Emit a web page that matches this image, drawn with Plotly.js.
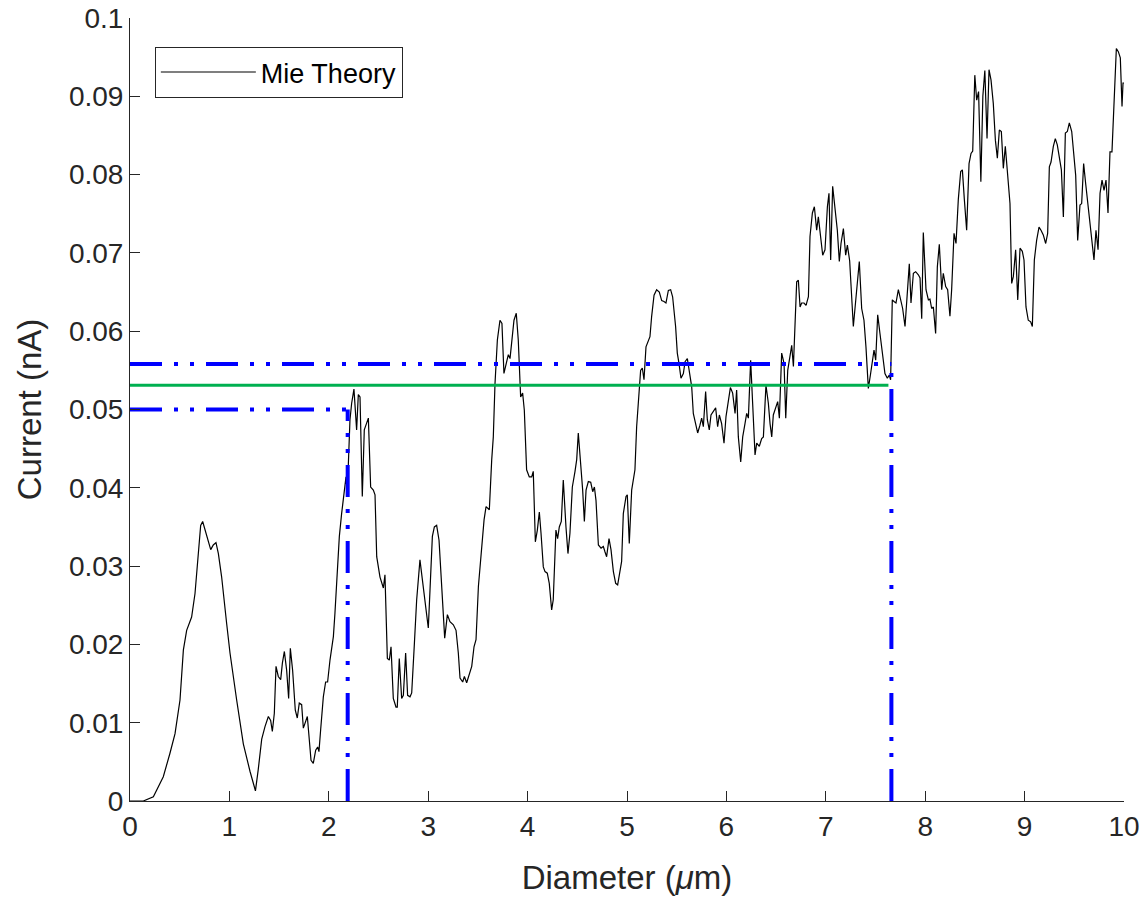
<!DOCTYPE html>
<html>
<head>
<meta charset="utf-8">
<script src="https://cdn.plot.ly/plotly-3.0.1.min.js"></script>
<style>html,body{margin:0;padding:0;background:#fff;}#chart{width:1143px;height:901px;}</style>
</head>
<body>
<div id="chart"></div>
<script>
const diameter = [0,0.134,0.235,0.335,0.402,0.453,0.503,0.537,0.570,0.620,0.654,0.687,0.711,0.731,0.755,0.788,0.812,0.838,0.865,0.889,0.922,0.972,1.006,1.073,1.140,1.207,1.262,1.290,1.325,1.358,1.392,1.415,1.432,1.452,1.469,1.492,1.516,1.533,1.553,1.576,1.596,1.613,1.636,1.663,1.683,1.703,1.727,1.744,1.760,1.784,1.804,1.821,1.844,1.868,1.888,1.901,1.918,1.945,1.968,1.988,2.012,2.046,2.062,2.086,2.106,2.129,2.156,2.173,2.186,2.213,2.230,2.253,2.280,2.297,2.314,2.337,2.357,2.381,2.398,2.421,2.448,2.465,2.482,2.515,2.549,2.565,2.589,2.609,2.626,2.649,2.676,2.689,2.709,2.733,2.750,2.773,2.793,2.817,2.834,2.861,2.884,2.917,2.944,2.975,3.001,3.018,3.042,3.062,3.085,3.109,3.129,3.146,3.166,3.193,3.219,3.253,3.280,3.303,3.320,3.347,3.364,3.387,3.414,3.438,3.461,3.481,3.505,3.538,3.562,3.582,3.615,3.639,3.655,3.672,3.696,3.722,3.742,3.762,3.789,3.806,3.823,3.839,3.863,3.886,3.906,3.930,3.950,3.967,3.990,4.017,4.041,4.057,4.078,4.098,4.118,4.135,4.158,4.175,4.198,4.218,4.242,4.258,4.285,4.302,4.319,4.339,4.359,4.386,4.406,4.426,4.450,4.477,4.494,4.510,4.534,4.554,4.571,4.588,4.611,4.635,4.655,4.672,4.688,4.712,4.739,4.762,4.779,4.795,4.819,4.839,4.863,4.886,4.906,4.930,4.946,4.963,4.990,5.003,5.023,5.047,5.080,5.097,5.114,5.137,5.154,5.171,5.191,5.214,5.231,5.248,5.272,5.298,5.325,5.349,5.372,5.392,5.416,5.439,5.459,5.489,5.506,5.523,5.543,5.567,5.584,5.607,5.627,5.651,5.667,5.687,5.711,5.734,5.751,5.768,5.791,5.808,5.828,5.845,5.868,5.892,5.912,5.929,5.952,5.976,5.996,6.019,6.040,6.063,6.087,6.103,6.120,6.144,6.164,6.187,6.204,6.221,6.244,6.264,6.288,6.305,6.331,6.355,6.372,6.398,6.422,6.439,6.456,6.472,6.499,6.516,6.533,6.556,6.580,6.597,6.617,6.640,6.657,6.674,6.691,6.707,6.724,6.741,6.757,6.781,6.801,6.825,6.841,6.865,6.885,6.908,6.925,6.948,6.969,6.992,7.016,7.032,7.049,7.069,7.093,7.116,7.136,7.153,7.177,7.200,7.217,7.240,7.277,7.310,7.337,7.361,7.384,7.404,7.428,7.451,7.485,7.502,7.522,7.545,7.569,7.595,7.619,7.639,7.652,7.669,7.686,7.706,7.730,7.753,7.773,7.797,7.814,7.840,7.857,7.881,7.904,7.931,7.948,7.965,7.981,8.008,8.032,8.048,8.065,8.082,8.105,8.122,8.142,8.166,8.182,8.206,8.226,8.249,8.266,8.290,8.310,8.333,8.357,8.374,8.394,8.417,8.441,8.461,8.478,8.499,8.518,8.537,8.560,8.580,8.600,8.622,8.642,8.662,8.685,8.706,8.726,8.746,8.766,8.786,8.806,8.826,8.853,8.870,8.887,8.910,8.931,8.954,8.977,8.994,9.014,9.037,9.061,9.078,9.098,9.121,9.145,9.165,9.188,9.212,9.232,9.249,9.266,9.289,9.309,9.329,9.350,9.370,9.390,9.410,9.430,9.450,9.474,9.494,9.514,9.534,9.557,9.574,9.594,9.614,9.635,9.658,9.678,9.698,9.718,9.739,9.759,9.779,9.799,9.819,9.839,9.859,9.879,9.900,9.923,9.943,9.963,9.980,9.990,10.0];
const current = [0,0.0000,0.00055,0.0031,0.0061,0.0086,0.0129,0.0193,0.0218,0.0235,0.0265,0.0321,0.0352,0.0357,0.0346,0.0329,0.0321,0.0327,0.0330,0.0316,0.0286,0.0227,0.0189,0.0129,0.0073,0.0038,0.0013,0.0040,0.0079,0.0095,0.0108,0.0103,0.0089,0.0112,0.0172,0.0159,0.0155,0.0176,0.0191,0.0167,0.0131,0.0195,0.0167,0.0116,0.0106,0.0125,0.0123,0.0093,0.0099,0.0108,0.0078,0.0052,0.0048,0.0065,0.0069,0.0063,0.0091,0.0133,0.0152,0.0152,0.0180,0.0210,0.0240,0.0291,0.0338,0.0367,0.0401,0.0414,0.0393,0.0487,0.0508,0.0526,0.0474,0.0519,0.0516,0.0389,0.0474,0.0482,0.0489,0.0401,0.0397,0.0391,0.0312,0.0286,0.0272,0.0289,0.0182,0.0180,0.0197,0.0131,0.0120,0.0120,0.0182,0.0131,0.0135,0.0189,0.0135,0.0133,0.0138,0.0201,0.0257,0.0308,0.0282,0.0252,0.0221,0.0269,0.0338,0.0350,0.0352,0.0333,0.0286,0.0244,0.0208,0.0238,0.0229,0.0225,0.0218,0.0189,0.0157,0.0152,0.0159,0.0151,0.0163,0.0172,0.0197,0.0206,0.0274,0.0329,0.0359,0.0376,0.0372,0.0436,0.0465,0.0533,0.0589,0.0614,0.0610,0.0546,0.0559,0.0570,0.0565,0.0587,0.0614,0.0623,0.0589,0.0516,0.0521,0.0499,0.0423,0.0414,0.0414,0.0421,0.0331,0.0346,0.0369,0.0342,0.0299,0.0293,0.0291,0.0278,0.0244,0.0257,0.0346,0.0335,0.0350,0.0357,0.0410,0.0350,0.0316,0.0342,0.0401,0.0421,0.0436,0.0470,0.0436,0.0397,0.0357,0.0397,0.0408,0.0407,0.0395,0.0401,0.0384,0.0327,0.0323,0.0325,0.0318,0.0312,0.0335,0.0321,0.0293,0.0278,0.0276,0.0295,0.0306,0.0367,0.0389,0.0391,0.0329,0.0397,0.0423,0.0478,0.0508,0.0550,0.0553,0.0538,0.0580,0.0587,0.0593,0.0619,0.0646,0.0653,0.0650,0.0639,0.0638,0.0636,0.0652,0.0653,0.0644,0.0606,0.0572,0.0559,0.0540,0.0546,0.0561,0.0565,0.0550,0.0529,0.0495,0.0482,0.0470,0.0480,0.0489,0.0478,0.0523,0.0487,0.0474,0.0493,0.0497,0.0502,0.0478,0.0493,0.0482,0.0457,0.0491,0.0512,0.0528,0.0521,0.0495,0.0525,0.0465,0.0433,0.0465,0.0482,0.0495,0.0489,0.0563,0.0508,0.0442,0.0457,0.0453,0.0463,0.0465,0.0531,0.0508,0.0482,0.0465,0.0493,0.0502,0.0510,0.0489,0.0572,0.0559,0.0489,0.0550,0.0570,0.0582,0.0555,0.0614,0.0663,0.0665,0.0631,0.0636,0.0636,0.0633,0.0644,0.0721,0.0751,0.0759,0.0729,0.0746,0.0721,0.0697,0.0704,0.0759,0.0776,0.0691,0.0785,0.0759,0.0729,0.0689,0.0712,0.0731,0.0697,0.0710,0.0690,0.0606,0.0657,0.0689,0.0629,0.0614,0.0580,0.0527,0.0546,0.0576,0.0563,0.0621,0.0597,0.0572,0.0546,0.0540,0.0544,0.0538,0.0640,0.0638,0.0636,0.0653,0.0642,0.0629,0.0606,0.0640,0.0686,0.0636,0.0674,0.0676,0.0672,0.0668,0.0616,0.0726,0.0653,0.0640,0.0641,0.0629,0.0631,0.0597,0.0682,0.0711,0.0653,0.0674,0.0657,0.0653,0.0619,0.0653,0.0725,0.0712,0.0768,0.0804,0.0806,0.0768,0.0729,0.0814,0.0827,0.0830,0.0927,0.0895,0.0906,0.0791,0.0900,0.0933,0.0846,0.0934,0.0921,0.0891,0.0844,0.0821,0.0857,0.0855,0.0808,0.0836,0.0802,0.0763,0.0661,0.0670,0.0704,0.0640,0.0706,0.0702,0.0691,0.0631,0.0614,0.0612,0.0606,0.0691,0.0716,0.0733,0.0729,0.0723,0.0712,0.0725,0.0810,0.0816,0.0836,0.0846,0.0838,0.0821,0.0806,0.0746,0.0853,0.0855,0.0866,0.0855,0.0831,0.0799,0.0716,0.0761,0.0763,0.0814,0.0789,0.0765,0.0733,0.0712,0.0691,0.0729,0.0704,0.0776,0.0793,0.0780,0.0793,0.0751,0.0829,0.0829,0.0895,0.0961,0.0957,0.0949,0.0887,0.0917,0.0917];

// threshold levels and crossing diameters
const currentLevels = [0.0500, 0.0558];   // lower, upper (blue dash-dot)
const meanCurrent = [0.0531];             // green
const crossDiameters = [2.19, 7.66];      // left, right verticals
const meanLineEnd = [7.63];

const xTickVals = [0,1,2,3,4,5,6,7,8,9,10];
const xTickText = ['0','1','2','3','4','5','6','7','8','9','10'];
const yTickVals = [0,0.01,0.02,0.03,0.04,0.05,0.06,0.07,0.08,0.09,0.1];
const yTickText = ['0','0.01','0.02','0.03','0.04','0.05','0.06','0.07','0.08','0.09','0.1'];

const blueDash = '32px,12px,4px,12px,4px,12px';
const blueLine = {color:'#0000FF', width:4, dash: blueDash};

const traces = [
  {x: diameter, y: current, type:'scatter', mode:'lines', name:'Mie Theory',
   line:{color:'#000000', width:1.2}, showlegend:true},
  {x:[0, meanLineEnd[0]], y:[meanCurrent[0], meanCurrent[0]], type:'scatter', mode:'lines',
   line:{color:'#00B050', width:3}, showlegend:false},
  {x:[0, crossDiameters[0]], y:[currentLevels[0], currentLevels[0]], type:'scatter', mode:'lines',
   line: blueLine, showlegend:false},
  {x:[crossDiameters[0], crossDiameters[0]], y:[0, currentLevels[0]], type:'scatter', mode:'lines',
   line: blueLine, showlegend:false},
  {x:[0, crossDiameters[1]], y:[currentLevels[1], currentLevels[1]], type:'scatter', mode:'lines',
   line: blueLine, showlegend:false},
  {x:[crossDiameters[1], crossDiameters[1]], y:[0, currentLevels[1]], type:'scatter', mode:'lines',
   line: blueLine, showlegend:false}
];

const fontFam = '"Liberation Sans", Arial, Helvetica, sans-serif';
const layout = {
  width:1143, height:901,
  margin:{l:130, r:19, t:18, b:100},
  paper_bgcolor:'#ffffff', plot_bgcolor:'#ffffff',
  font:{family:fontFam, color:'#262626', size:28},
  showlegend:true,
  legend:{x:0.025, y:0.963, xanchor:'left', yanchor:'top', bgcolor:'#ffffff',
          bordercolor:'#262626', borderwidth:1, font:{family:fontFam, size:27, color:'#000000'},
          itemwidth:95, tracegroupgap:0},
  xaxis:{range:[0,10], tickvals:xTickVals, ticktext:xTickText, ticks:'inside', ticklen:10,
         tickcolor:'#262626', showline:true, linecolor:'#262626', linewidth:1, showgrid:false,
         zeroline:false, mirror:false, tickfont:{size:28, color:'#262626'},
         title:{text:'Diameter (<i>μ</i>m)', font:{size:33, color:'#262626'}, standoff:25}},
  yaxis:{range:[0,0.1], tickvals:yTickVals, ticktext:yTickText, ticks:'inside', ticklen:10,
         tickcolor:'#262626', showline:true, linecolor:'#262626', linewidth:1, showgrid:false,
         zeroline:false, mirror:false, tickfont:{size:28, color:'#262626'},
         title:{text:'Current (nA)', font:{size:33, color:'#262626'}, standoff:17}}
};

Plotly.newPlot('chart', traces, layout, {displayModeBar:false, staticPlot:true});
</script>
</body>
</html>
